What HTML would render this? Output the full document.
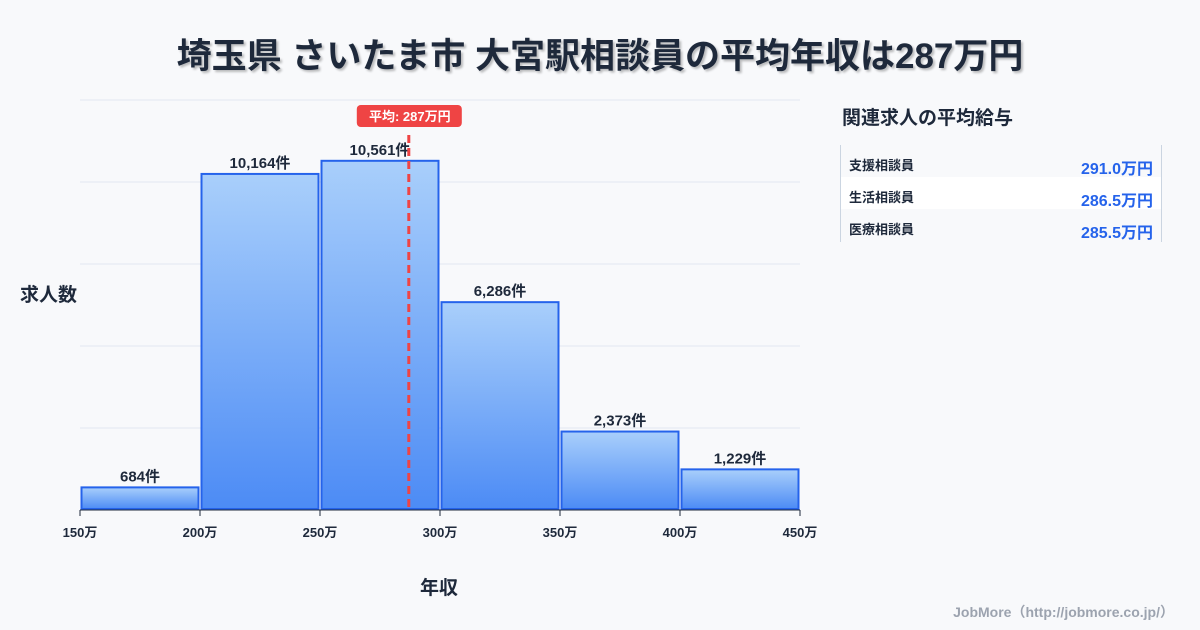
<!DOCTYPE html>
<html><head><meta charset="utf-8">
<style>
body{margin:0;width:1200px;height:630px;background:#f8f9fb;font-family:"Liberation Sans","Noto Sans CJK JP",sans-serif;color:#1e293b;overflow:hidden;position:relative}
.t{position:absolute;white-space:nowrap}
</style></head><body>
<div class="t" style="left:0;width:1200px;top:28px;text-align:center;font-size:35px;font-weight:bold;text-shadow:2px 2px 2px rgba(0,0,0,0.25)">埼玉県 さいたま市 大宮駅相談員の平均年収は287万円</div>
<div class="t" style="left:20px;top:280px;font-size:19px;font-weight:bold">求人数</div>
<div class="t" style="left:420px;top:573px;font-size:19px;font-weight:bold">年収</div>
<svg id="chart" width="1200" height="630" style="position:absolute;left:0;top:0">
<defs><linearGradient id="g" x1="0" y1="0" x2="0" y2="1"><stop offset="0" stop-color="#a9cffb"/><stop offset="1" stop-color="#4c8bf5"/></linearGradient></defs>
</svg>
<div class="t" style="left:842px;top:103px;font-size:19px;font-weight:bold">関連求人の平均給与</div>
<div style="position:absolute;left:840px;top:145px;width:320px;height:97px;border-left:1px solid #cbd5e1;border-right:1px solid #cbd5e1">
<div style="height:32px;position:relative"><span class="t" style="left:8px;top:10px;font-size:13px;font-weight:bold">支援相談員</span><span class="t" style="right:8px;top:10px;font-size:16px;font-weight:bold;color:#2563eb">291.0万円</span></div>
<div style="height:32px;position:relative;background:#fff"><span class="t" style="left:8px;top:10px;font-size:13px;font-weight:bold">生活相談員</span><span class="t" style="right:8px;top:10px;font-size:16px;font-weight:bold;color:#2563eb">286.5万円</span></div>
<div style="height:32px;position:relative"><span class="t" style="left:8px;top:10px;font-size:13px;font-weight:bold">医療相談員</span><span class="t" style="right:8px;top:10px;font-size:16px;font-weight:bold;color:#2563eb">285.5万円</span></div>
</div>
<div class="t" style="right:26px;top:602px;font-size:14px;font-weight:bold;color:#9ca3af">JobMore（http://jobmore.co.jp/）</div>
<script>
const binEdges=[150,200,250,300,350,400,450];
const counts=[684,10164,10561,6286,2373,1229];
const countLabels=["684件","10,164件","10,561件","6,286件","2,373件","1,229件"];
const tickLabels=["150万","200万","250万","300万","350万","400万","450万"];
const meanValue=287;
const meanLabel="平均: 287万円";
const yMax=12400, gridStep=2480;
const NS="http://www.w3.org/2000/svg";
const svg=document.getElementById('chart');
const X0=80,X1=800,Y0=510,Y1=100;
const xs=v=>X0+(v-150)/(450-150)*(X1-X0);
const ys=v=>Y0-v/yMax*(Y0-Y1);
function mk(t,a){const e=document.createElementNS(NS,t);for(const k in a)e.setAttribute(k,a[k]);svg.appendChild(e);return e;}
for(let v=gridStep;v<=yMax+1;v+=gridStep){const l=mk('line',{x1:X0,x2:X1,y1:ys(v),y2:ys(v),stroke:'#e2e8f0','stroke-width':1});

}
counts.forEach((c,i)=>{
const x=xs(binEdges[i])+1.5,w=xs(binEdges[i+1])-xs(binEdges[i])-3,y=ys(c);
const r=mk('rect',{x:x,y:y,width:w,height:Y0-y-1,fill:'url(#g)',stroke:'#2563eb','stroke-width':2});


const t=mk('text',{x:x+w/2,y:y-6,'text-anchor':'middle','font-size':15,'font-weight':'bold',fill:'#1e293b'});
t.textContent=countLabels[i];


});
const ax=mk('line',{x1:X0,x2:X1,y1:Y0,y2:Y0,stroke:'#1e293b','stroke-width':1});


binEdges.forEach((b,i)=>{
const tk=mk('line',{x1:xs(b),x2:xs(b),y1:Y0,y2:Y0+6,stroke:'#1e293b'});


const t=mk('text',{x:xs(b),y:Y0+27,'text-anchor':'middle','font-size':13,'font-weight':'bold',fill:'#1e293b'});
t.textContent=tickLabels[i];


});
const mx=xs(meanValue);
const ml=mk('line',{x1:mx,x2:mx,y1:135,y2:Y0,stroke:'#ef4444','stroke-width':3,'stroke-dasharray':'8,5'});


const mb=mk('rect',{x:mx-52,y:105,width:105,height:22,rx:4,fill:'#ef4444'});


const mt=mk('text',{x:mx+1,y:121,'text-anchor':'middle','font-size':13,'font-weight':'bold',fill:'#fff'});
mt.textContent=meanLabel;


</script>
</body></html>
